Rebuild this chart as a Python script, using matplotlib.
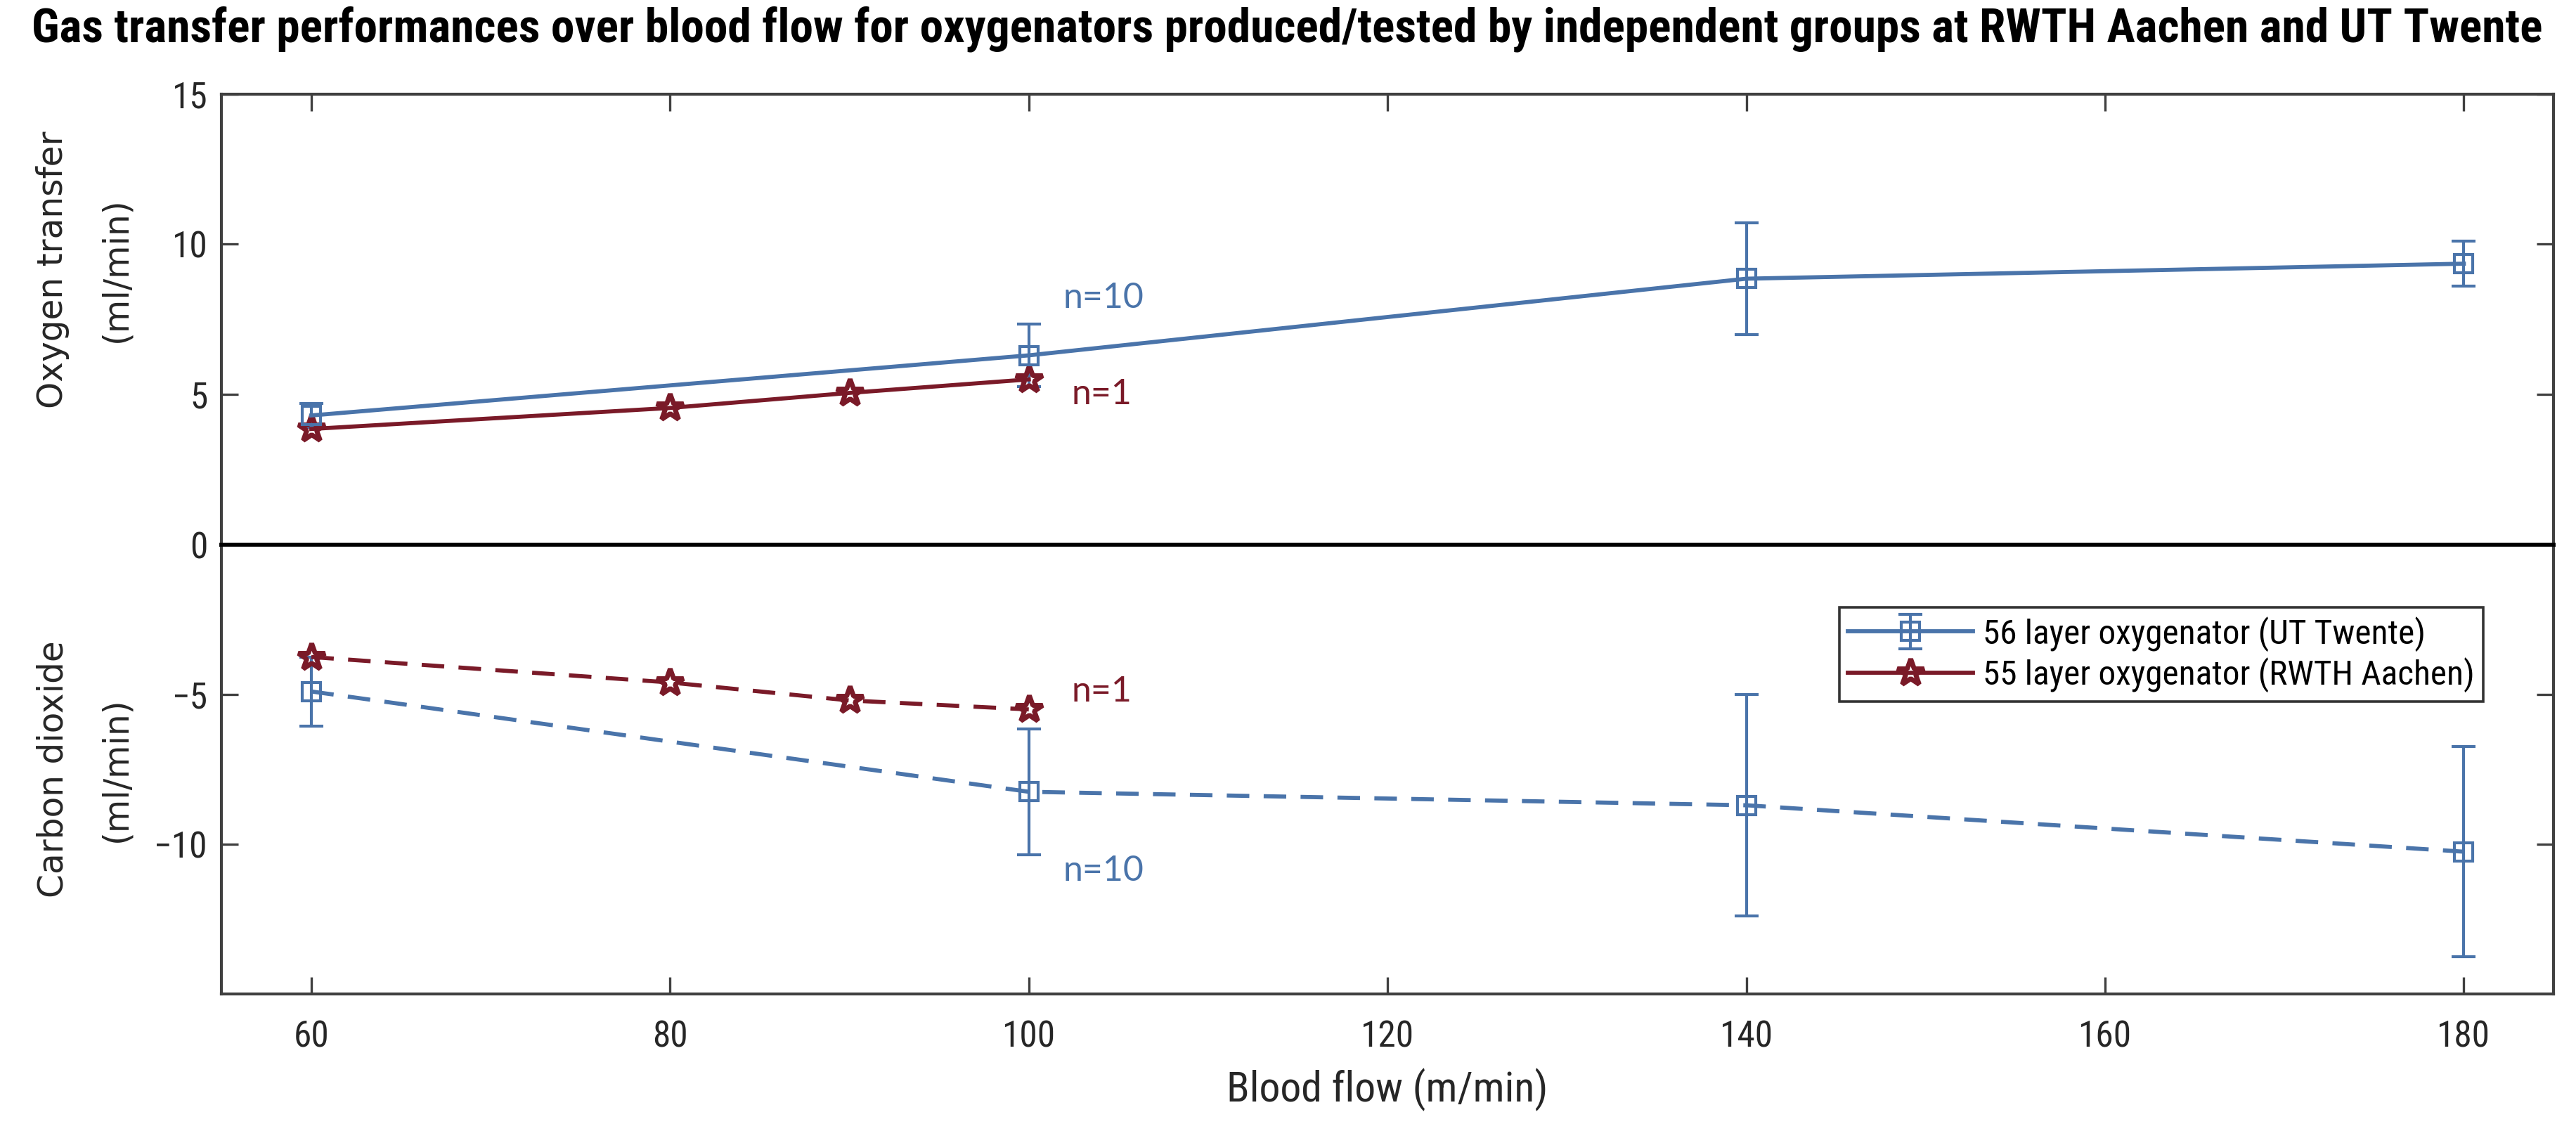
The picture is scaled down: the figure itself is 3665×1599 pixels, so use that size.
import matplotlib
matplotlib.use("Agg")
import matplotlib.pyplot as plt

# data
flow_ut = [60, 100, 140, 180]
o2_ut = [4.3, 6.3, 8.85, 9.35]
o2_ut_err = [0.4, 1.05, 1.85, 0.75]
co2_ut = [-4.9, -8.25, -8.7, -10.25]
co2_ut_err = [1.15, 2.1, 3.7, 3.5]

flow_rwth = [60, 80, 90, 100]
o2_rwth = [3.85, 4.55, 5.05, 5.5]
co2_rwth = [-3.75, -4.6, -5.2, -5.5]

xticks = [60, 80, 100, 120, 140, 160, 180]
title = ("Gas transfer performances over blood flow for oxygenators "
         "produced/tested by independent groups at RWTH Aachen and UT Twente")
lab_ut = "56 layer oxygenator (UT Twente)"
lab_rwth = "55 layer oxygenator (RWTH Aachen)"

blue = "#4a74aa"
red = "#7a1a28"
spine = "#404040"
narrow = ["Liberation Sans Narrow", "Roboto Condensed", "DejaVu Sans Condensed",
          "Liberation Sans"]
wide = ["DejaVu Sans"]
note = ["Lato", "Open Sans", "DejaVu Sans"]

fig = plt.figure(figsize=(36.66, 15.99), dpi=100)
L, R = 0.086, 0.991
mid = 0.5154
ax1 = fig.add_axes([L, mid, R - L, 0.9165 - mid])
ax2 = fig.add_axes([L, 0.1157, R - L, mid - 0.1157])

lw = 4.2
ms = 19
cap = 12
dash = (5.5, 3.5)

e1 = ax1.errorbar(flow_ut, o2_ut, yerr=o2_ut_err, color=blue, lw=lw, marker="s",
                  ms=ms, mfc="none", mew=3, capsize=cap, capthick=3, elinewidth=3)
l1, = ax1.plot(flow_rwth, o2_rwth, color=red, lw=lw, marker="*", ms=ms + 10,
               mfc="none", mew=5)

ax2.errorbar(flow_ut, co2_ut, yerr=co2_ut_err, color=blue, lw=lw, marker="s",
             ms=ms, mfc="none", mew=3, capsize=cap, capthick=3, elinewidth=3,
             dashes=dash)
ax2.plot(flow_rwth, co2_rwth, color=red, lw=lw, marker="*", ms=ms + 10,
         mfc="none", mew=5, dashes=dash)

ax1.text(101.9, 8.2, "n=10", color=blue, family=note, fontsize=36, va="center")
ax1.text(102.4, 5.0, "n=1", color=red, family=note, fontsize=36, va="center")
ax2.text(102.4, -4.9, "n=1", color=red, family=note, fontsize=36, va="center")
ax2.text(101.9, -10.9, "n=10", color=blue, family=note, fontsize=36, va="center")

for ax in (ax1, ax2):
    ax.set_xlim(55, 185)
    ax.set_xticks(xticks)
    for s in ax.spines.values():
        s.set_color(spine)
        s.set_linewidth(3)
    ax.tick_params(direction="in", length=17, width=2.4, color=spine,
                   labelsize=37, labelcolor="#262626", right=True, pad=14)
    ax.tick_params(axis="x", pad=26)
    for t in ax.get_xticklabels() + ax.get_yticklabels():
        t.set_family(narrow)

ax1.spines["bottom"].set_color("black")
ax1.spines["bottom"].set_linewidth(4)
ax2.spines["top"].set_color("black")
ax2.spines["top"].set_linewidth(4)

ax1.set_ylim(0, 15)
ax1.set_yticks([0, 5, 10, 15])
ax1.tick_params(axis="x", top=True, bottom=False, labeltop=False, labelbottom=False)
ax2.set_ylim(-15, 0)
ax2.set_yticks([-10, -5])
ax2.tick_params(axis="x", top=False, bottom=True)

ax1.set_ylabel("Oxygen transfer\n(ml/min)", family=wide, fontsize=35,
               color="#262626", linespacing=2.1)
ax1.yaxis.set_label_coords(-0.038, 0.61)
ax2.set_ylabel("Carbon dioxide\n(ml/min)", family=wide, fontsize=35,
               color="#262626", linespacing=2.1)
ax2.yaxis.set_label_coords(-0.038, 0.5)
ax2.set_xlabel("Blood flow (m/min)", family=narrow, fontsize=43,
               color="#262626", labelpad=14)

leg = ax2.legend([e1, l1], [lab_ut, lab_rwth], loc="upper right",
                 bbox_to_anchor=(0.97, 0.86), borderaxespad=0,
                 prop={"family": narrow, "size": 35.5},
                 fancybox=False, edgecolor="#333333", framealpha=1,
                 handlelength=3.6, borderpad=0.25, labelspacing=0.18,
                 handletextpad=0.3)
leg.get_frame().set_linewidth(2.6)

tt = fig.text(0.4996, 0.974, title, ha="center", va="center", family=narrow,
              weight="bold", fontsize=32, color="black")
fig.canvas.draw()
w = tt.get_window_extent().width
tt.set_fontsize(32 * 3577 / w)

fig.savefig("out.png", dpi=100)
